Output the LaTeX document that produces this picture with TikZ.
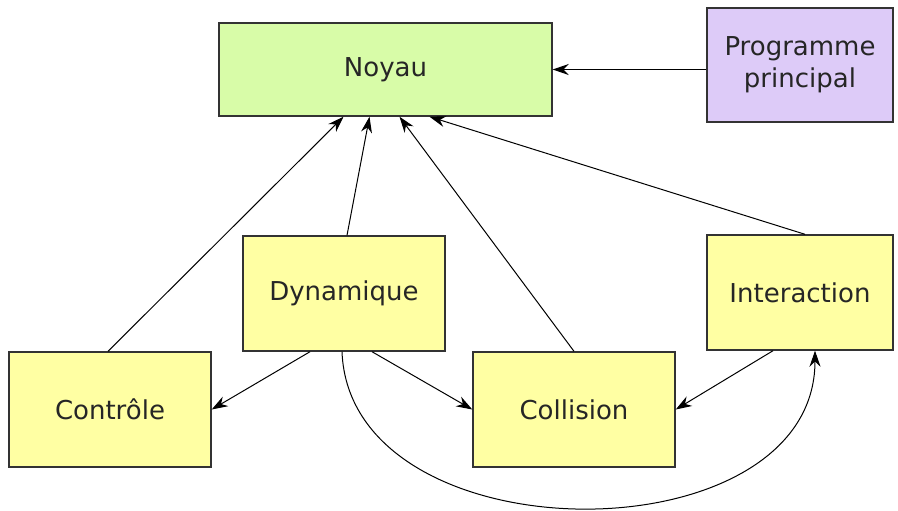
\documentclass[tikz,border=0pt]{standalone}
\usepackage{fontspec}
\setmainfont{DejaVu Sans}
\usetikzlibrary{arrows.meta}
\definecolor{vert}{HTML}{D8FCA8}
\definecolor{violet}{HTML}{DDCBF8}
\definecolor{jaune}{HTML}{FFFFA3}
\definecolor{bord}{HTML}{333333}
\begin{document}
\begin{tikzpicture}[x=0.5pt, y=-0.5pt, line width=0.5pt, >={Stealth[length=8pt, width=5.5pt]}]
                \tikzstyle{boite} = [rectangle, draw=bord, line width=0.7pt, inner sep=0pt, text=black!85, font=\fontsize{13}{16}\selectfont, align=center]
                \tikzstyle{noyau} = [boite, fill=vert, minimum width=166.5pt, minimum height=46.5pt]
                \tikzstyle{prog} = [boite, fill=violet, minimum width=93pt, minimum height=57pt]
                \tikzstyle{module} = [boite, fill=jaune, minimum width=101pt, minimum height=57.5pt]

                \useasboundingbox (0,0) rectangle (898,510);

                % Noyau and main program (top row)
                \node[noyau] (noy) at (385.5,69.5) {Noyau};
                \node[prog] (prg) at (800,65) {Programme\\principal};

                % Modules (yellow boxes)
                \node[module] (dyn) at (344,293.5) {Dynamique};
                \node[module, minimum width=93pt] (int) at (800,292.5) {Interaction};
                \node[module] (ctl) at (110,409.5) {Contrôle};
                \node[module] (col) at (574,409.5) {Collision};

                \draw[->] (prg.west |- noy.east) -- (noy.east);
                \draw[->] ([xshift=-1pt]ctl.north) -- ([xshift=-21pt]noy.south);
                \draw[->] ([xshift=1.5pt]dyn.north) -- ([xshift=-8pt]noy.south);
                \draw[->] (col.north) -- ([xshift=7pt]noy.south);
                \draw[->] ([xshift=2.5pt]int.north) -- ([xshift=22pt]noy.south);
                \draw[->] ([xshift=-17pt]dyn.south) -- (ctl.east);
                \draw[->] ([xshift=14pt]dyn.south) -- (col.west);
                \draw[->] ([xshift=-13.5pt]int.south) -- (col.east);
                \draw[->] ([xshift=-1pt]dyn.south) .. controls (350,560) and (815,560) .. ([xshift=7.5pt]int.south);
            \end{tikzpicture}
\end{document}
